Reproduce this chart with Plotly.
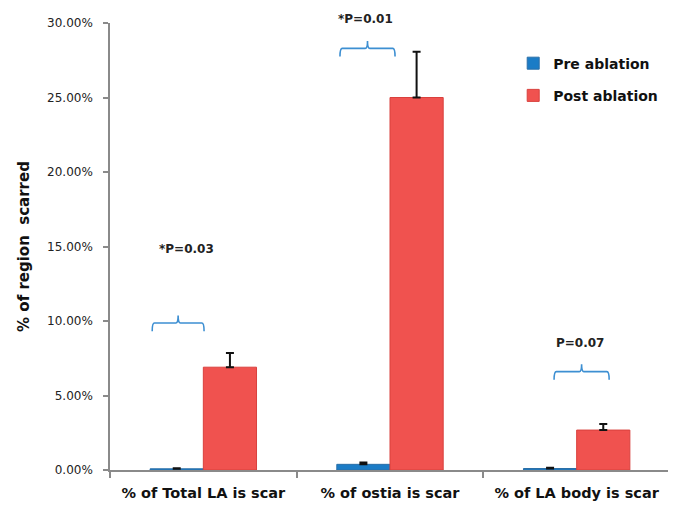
import plotly.graph_objects as go

categories = ["% of Total LA is scar", "% of ostia is scar", "% of LA body is scar"]
pre_values = [0.0008, 0.0038, 0.0010]
pre_errors = [0.0003, 0.0013, 0.0005]
post_values = [0.0690, 0.2500, 0.0268]
post_errors = [0.0095, 0.0307, 0.0041]
y_ticks = [0, 0.05, 0.10, 0.15, 0.20, 0.25, 0.30]
Y_MAX = 0.30

p_labels = ["*P=0.03", "*P=0.01", "P=0.07"]
p_label_x = [-0.09, 0.87, 2.02]
p_label_y = [0.148, 0.303, 0.085]
bracket_x0 = [-0.274, 0.732, 1.879]
bracket_x1 = [0.004, 1.027, 2.174]
bracket_y = [0.0987, 0.2830, 0.0660]

BLUE = "#1b7cc6"
RED = "#f0524f"
FONT = "DejaVu Sans"
xs = list(range(len(categories)))

fig = go.Figure()
fig.add_trace(go.Bar(
    x=xs, y=pre_values, name="<b>Pre ablation</b>", legendgroup="a",
    marker=dict(color=BLUE, line=dict(color="#2a6fa8", width=1)),
    error_y=dict(type="data", array=pre_errors, arrayminus=[0] * 3, symmetric=False,
                 color="#111111", thickness=2, width=4),
))
fig.add_trace(go.Bar(
    x=xs, y=post_values, name="<b>Post ablation</b>", legendgroup="b",
    marker=dict(color=RED, line=dict(color="#d9403d", width=1)),
    error_y=dict(type="data", array=post_errors, arrayminus=[0] * 3, symmetric=False,
                 color="#111111", thickness=2, width=4),
))

shapes = []
for x0, x1, y in zip(bracket_x0, bracket_x1, bracket_y):
    xm = (x0 + x1) / 2
    d = 0.0055
    t = 0.0050
    r = 0.012
    path = (f"M {x0},{y - d} Q {x0},{y} {x0 + r},{y} L {xm - r},{y} "
            f"Q {xm},{y} {xm},{y + t} Q {xm},{y} {xm + r},{y} L {x1 - r},{y} "
            f"Q {x1},{y} {x1},{y - d}")
    shapes.append(dict(type="path", path=path, xref="x", yref="y",
                       line=dict(color="#3d8fd2", width=1.6)))

annotations = [
    dict(x=x, y=y / Y_MAX, xref="x", yref="paper", xanchor="center", yanchor="middle",
         text=f"<b>{t}</b>", showarrow=False,
         font=dict(family=FONT, size=12, color="#222222"))
    for t, x, y in zip(p_labels, p_label_x, p_label_y)
]

# page body has an 8px default margin: figure sized to fill the 676x513 window
fig.update_layout(
    width=668, height=505,
    margin=dict(l=102, r=6, t=15, b=43),
    paper_bgcolor="white", plot_bgcolor="white",
    barmode="group", bargap=0.43, bargroupgap=0,
    font=dict(family=FONT, color="#222222"),
    shapes=shapes, annotations=annotations,
    legend=dict(x=0.72, y=0.945, xanchor="left", yanchor="top",
                font=dict(family=FONT, size=14, color="#111111"),
                tracegroupgap=11, traceorder="grouped", bgcolor="rgba(0,0,0,0)"),
    xaxis=dict(
        range=[-0.5, 2.5], tickvals=xs, ticktext=[f"<b>{c}</b>" for c in categories],
        ticks="", showgrid=False, zeroline=False, ticklabelstandoff=9,
        showline=True, linecolor="#8a8a8a", linewidth=1.5,
        tickfont=dict(family=FONT, size=14.5, color="#111111"),
        minor=dict(tickvals=[-0.5, 0.5, 1.5, 2.5], ticks="outside", ticklen=6,
                   tickcolor="#8a8a8a", tickwidth=1.5),
    ),
    yaxis=dict(
        range=[0, Y_MAX], tickvals=y_ticks, tickformat=".2%",
        ticks="outside", ticklen=5, tickcolor="#8a8a8a", tickwidth=1.5,
        showgrid=False, zeroline=False, ticklabelstandoff=8,
        showline=True, linecolor="#8a8a8a", linewidth=1.5,
        tickfont=dict(family=FONT, size=12, color="#222222"),
        title=dict(text="<b>% of region  scarred</b>", standoff=14,
                   font=dict(family=FONT, size=15, color="#111111")),
    ),
)

fig.write_html("out.html")
